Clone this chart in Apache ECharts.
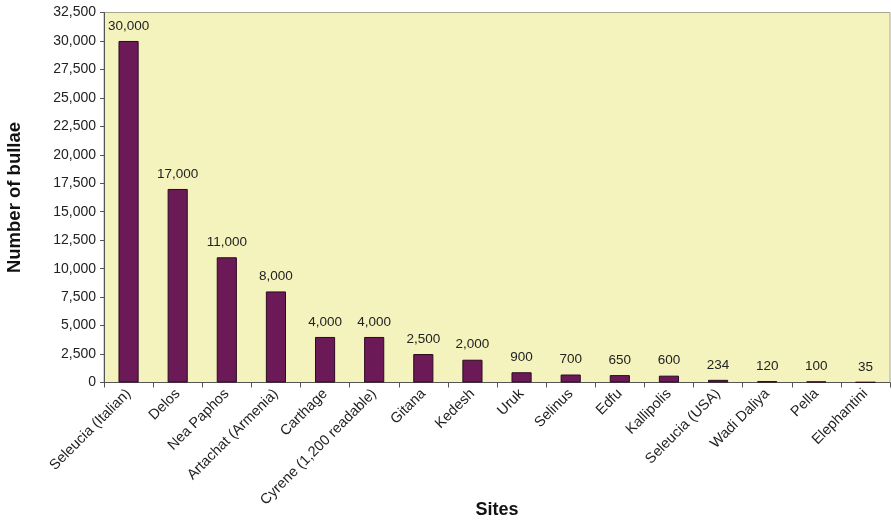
<!DOCTYPE html>
<html>
<head>
<meta charset="utf-8">
<script src="https://cdn.jsdelivr.net/npm/echarts@6/dist/echarts.min.js"></script>
<style>html,body{margin:0;padding:0;background:#fff;}#c{width:891px;height:521px;}</style>
</head>
<body>
<div id="c"></div>
<script>
var categories = ["Seleucia (Italian)", "Delos", "Nea Paphos", "Artachat (Armenia)", "Carthage", "Cyrene (1,200 readable)", "Gitana", "Kedesh", "Uruk", "Selinus", "Edfu", "Kallipolis", "Seleucia (USA)", "Wadi Daliya", "Pella", "Elephantini"];
var bullae = [30000, 17000, 11000, 8000, 4000, 4000, 2500, 2000, 900, 700, 650, 600, 234, 120, 100, 35];
var yMin = 0, yMax = 32500, yStep = 2500;

var chart = echarts.init(document.getElementById('c'), null, {renderer: 'canvas'});
chart.setOption({
  animation: false,
  backgroundColor: '#ffffff',
  textStyle: {fontFamily: 'Liberation Sans, Arial, sans-serif'},
  grid: {left: 104, right: 1, top: 12.5, bottom: 138.5, containLabel: false, outerBoundsMode: 'none', show: true, backgroundColor: '#F4F3BD', borderColor: '#A8A890', borderWidth: 1},
  xAxis: {
    type: 'category',
    data: categories,
    name: 'Sites',
    nameLocation: 'middle',
    nameGap: 119,
    nameMoveOverlap: false,
    nameTextStyle: {fontSize: 18, fontWeight: 'bold', color: '#111'},
    axisLine: {lineStyle: {color: '#555', width: 1}},
    axisTick: {show: true, length: 5, alignWithLabel: false, lineStyle: {color: '#555'}},
    axisLabel: {rotate: 45, interval: 0, fontSize: 14.5, color: '#222', margin: 9},
  },
  yAxis: {
    type: 'value',
    min: yMin, max: yMax, interval: yStep,
    name: 'Number of bullae',
    nameLocation: 'middle',
    nameGap: 80,
    nameMoveOverlap: false,
    nameTextStyle: {fontSize: 18.5, fontWeight: 'bold', color: '#111'},
    axisLine: {show: true, lineStyle: {color: '#555', width: 1}},
    axisTick: {show: true, length: 4, lineStyle: {color: '#555'}},
    splitLine: {show: false},
    axisLabel: {fontSize: 14, color: '#222', margin: 8, formatter: function(v){return v.toLocaleString('en-US');}}
  },
  series: [{
    type: 'bar',
    data: bullae,
    barWidth: '41%',
    itemStyle: {color: '#6B1A57', borderColor: '#2a0a20', borderWidth: 1},
    label: {show: true, position: 'top', distance: 8, fontSize: 13.5, color: '#222', formatter: function(p){return p.value.toLocaleString('en-US');}}
  }]
});
</script>
</body>
</html>
